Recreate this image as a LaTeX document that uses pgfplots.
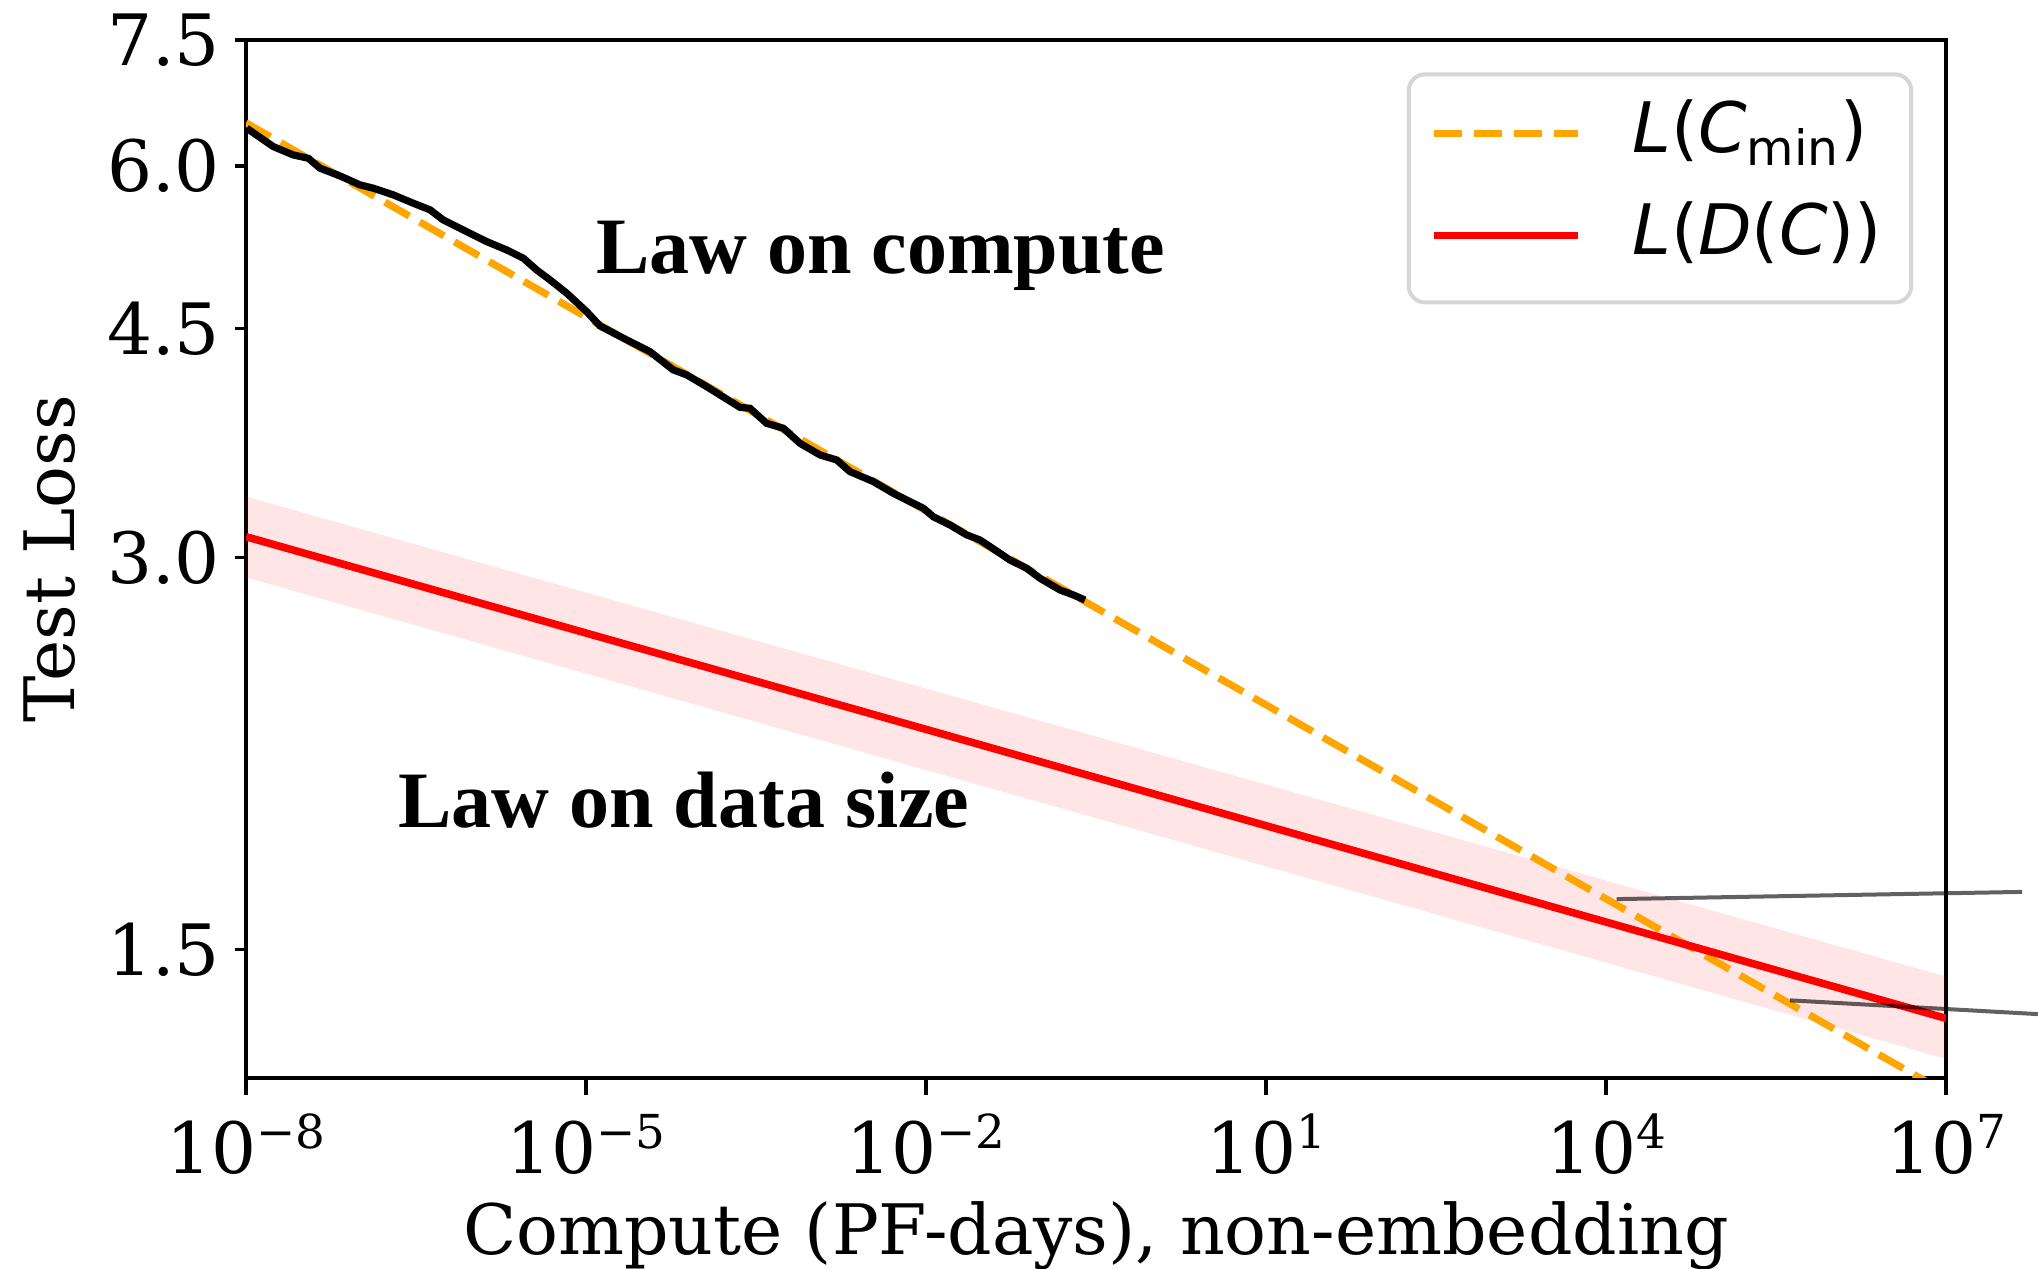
\documentclass[border=0pt]{standalone}
\usepackage{pgfplots}
\pgfplotsset{compat=1.18}
\usepackage{fontspec}
\setmainfont{DejaVu Serif}
\newfontfamily\lawfont{Liberation Serif}
\newfontfamily\legendsans{DejaVu Sans}
\definecolor{mplorange}{HTML}{FFA500}
\definecolor{legendedge}{HTML}{D6D6D6}

% superscript exponent for the decade tick labels
\newcommand{\dec}[1]{10\raisebox{6.25pt}{\fontsize{11.7}{12}\selectfont #1}}

\begin{document}
\begin{tikzpicture}
\begin{axis}[
  scale only axis, width=425pt, height=259.5pt,
  xmode=log, ymode=log,
  xmin=1e-8, xmax=1e7, ymin=1.195, ymax=7.5,
  clip mode=individual,
  xtick={1e-8,1e-5,1e-2,1e1,1e4,1e7},
  xticklabels={\dec{−8},\dec{−5},\dec{−2},\dec{1},\dec{4},\dec{7}},
  ytick={1.5,3,4.5,6,7.5},
  yticklabels={1.5,3.0,4.5,6.0,7.5},
  xminorticks=false, yminorticks=false,
  tick align=outside, xtick pos=bottom, ytick pos=left,
  major tick length=4.25pt,
  tick style={black, line width=0.85pt},
  ytick style={/pgfplots/major tick length=2.75pt},
  axis line style={line width=0.85pt},
  ticklabel style={font=\fontsize{17.7}{21}\selectfont},
  xticklabel style={anchor=base, inner sep=0pt, yshift=-19.75pt},
  yticklabel style={anchor=east, inner sep=0pt, xshift=-2.1pt},
  label style={font=\fontsize{17.4}{21}\selectfont},
  xlabel={Compute (PF-days), non-embedding},
  ylabel={Test Loss},
  x label style={at={([yshift=-44.25pt]axis description cs:0.5,0)}, anchor=base},
  y label style={at={([xshift=-42.9pt]axis description cs:0,0.5)}, anchor=base, rotate=0},
  legend style={
    at={(1,1)}, anchor=north east, xshift=-8.2pt, yshift=-8.1pt,
    draw=legendedge, line width=1pt, rounded corners=4pt, fill=white,
    inner xsep=5.3pt, inner ysep=5pt, row sep=4pt,
    font=\legendsans\fontsize{17.4}{21}\selectfont,
    nodes={inner sep=2pt, text height=12.5pt, text depth=5pt},
    /tikz/every odd column/.append style={column sep=10.7pt},
  },
  legend cell align=left,
  legend image code/.code={\draw[#1] (0pt,1pt) -- (36pt,1pt);},
]

% uncertainty band of the data-size law
\addplot[draw=none, fill=red, fill opacity=0.1, forget plot]
  coordinates {(1e-8,3.343) (1e7,1.430) (1e7,1.236) (1e-8,2.898)} -- cycle;

% compute-efficient frontier
\addplot[mplorange, line width=1.8pt, dash pattern=on 7pt off 3pt]
  coordinates {(1e-8,6.476) (1e7,1.164)};
\addlegendentry{\textit{L}(\textit{C}\textsubscript{min})}

% measured test loss
\addplot[black, line width=1.8pt, forget plot] coordinates {
  (1.014e-8,6.415) (1.742e-8,6.210) (2.612e-8,6.119) (3.548e-8,6.083)
  (4.498e-8,5.977) (6.745e-8,5.896) (1.014e-7,5.803) (1.327e-7,5.769)
  (1.995e-7,5.701) (2.992e-7,5.618) (4.207e-7,5.552) (5.508e-7,5.454)
  (8.851e-7,5.342) (1.330e-6,5.249) (1.995e-6,5.172) (2.799e-6,5.097)
  (3.673e-6,4.992) (4.808e-6,4.905) (6.761e-6,4.791) (1.014e-5,4.637)
  (1.330e-5,4.521) (2.286e-5,4.411) (3.673e-5,4.320) (5.888e-5,4.183)
  (7.745e-5,4.146) (1.161e-4,4.061) (2.286e-4,3.915) (2.799e-4,3.909)
  (3.926e-4,3.806) (5.508e-4,3.773) (7.727e-4,3.674) (1.161e-3,3.599)
  (1.629e-3,3.567) (2.133e-3,3.494) (3.428e-3,3.433) (5.140e-3,3.363)
  (7.228e-3,3.313) (9.462e-3,3.275) (1.159e-2,3.226) (1.629e-2,3.179)
  (2.286e-2,3.124) (2.992e-2,3.096) (3.673e-2,3.060) (5.508e-2,2.988)
  (7.727e-2,2.945) (1.014e-1,2.893) (1.521e-1,2.834) (1.995e-1,2.809)
  (2.529e-1,2.784)
};

% data-size law
\addplot[red, line width=1.9pt] coordinates {(1e-8,3.114) (1e7,1.328)};
\addlegendentry{\textit{L}(\textit{D}(\textit{C}))}

% region labels
\node[font=\lawfont\bfseries\fontsize{20}{23}\selectfont, anchor=base]
  at (axis cs:3.97e-3,4.957) {Law on compute};
\node[font=\lawfont\bfseries\fontsize{20}{23}\selectfont, anchor=base]
  at (axis cs:7.33e-5,1.863) {Law on data size};

% pointer lines running off to the right
\draw[black, opacity=0.62, line width=1pt]
  (axis cs:1.242e4,1.640) -- (axis cs:4.69e7,1.661);
\draw[black, opacity=0.62, line width=1pt]
  (axis cs:4.207e5,1.371) -- (axis cs:1.014e8,1.335);
\end{axis}
\pgfresetboundingbox
\path[use as bounding box]
  ([xshift=-61.5pt,yshift=-47.75pt]current axis.south west)
  rectangle ([xshift=23pt,yshift=10pt]current axis.north east);
\end{tikzpicture}
\end{document}
